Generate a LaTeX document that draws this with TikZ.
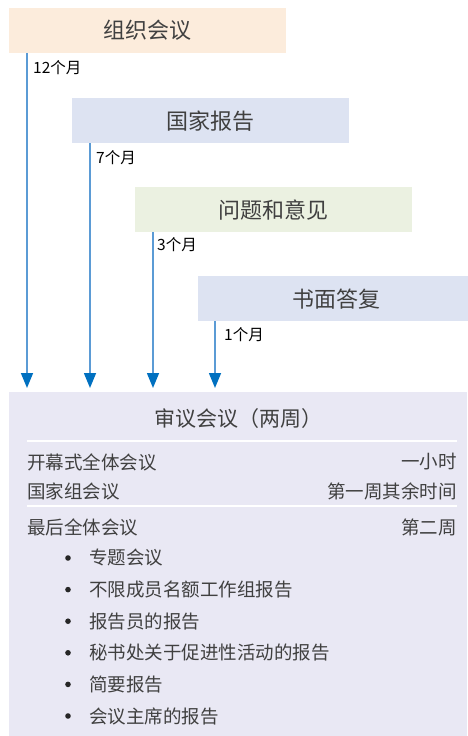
\documentclass[tikz,border=0pt]{standalone}
\usepackage{fontspec}
\setmainfont{Noto Sans CJK SC}
\usetikzlibrary{positioning,arrows.meta}
\definecolor{boxorange}{RGB}{252,236,220}
\definecolor{boxblue}{RGB}{221,227,242}
\definecolor{boxgreen}{RGB}{235,241,225}
\definecolor{boxlilac}{RGB}{233,232,244}
\definecolor{linkblue}{RGB}{91,155,213}
\definecolor{tipblue}{RGB}{0,112,192}
\definecolor{textgray}{RGB}{64,64,64}

\begin{document}
\begin{tikzpicture}[x=1pt, y=-1pt,
stage/.style={fill=#1, anchor=north west, minimum width=277pt, minimum height=45pt, inner sep=0pt, text=textgray, font=\fontsize{22}{22}\selectfont},
months/.style={inner sep=0pt, font=\fontsize{15.5}{15.5}\selectfont},
link/.style={draw=linkblue, line width=1.5pt, shorten >=4pt, -{Triangle[width=12pt, length=15pt, color=tipblue]}},
row/.style={inner sep=0pt, text=textgray, font=\fontsize{18.5}{18.5}\selectfont},
]
\useasboundingbox (0,0) rectangle (467,736);

\node[stage=boxorange] (org) at (9,8) {组织会议};
\node[stage=boxblue] (natrep) at (72,98) {国家报告};
\node[stage=boxgreen] (issues) at (135,187) {问题和意见};
\node[stage=boxblue] (reply) at (198,276) {书面答复};

\node[fill=boxlilac, anchor=north west, minimum width=458pt, minimum height=344pt, inner sep=0pt] (review) at (9,392) {};

\draw[link] ([xshift=18pt]org.south west) -- ([xshift=18pt]org.south west |- review.north);
\draw[link] ([xshift=18pt]natrep.south west) -- ([xshift=18pt]natrep.south west |- review.north);
\draw[link] ([xshift=18pt]issues.south west) -- ([xshift=18pt]issues.south west |- review.north);
\draw[link] ([xshift=17pt]reply.south west) -- ([xshift=17pt]reply.south west |- review.north);

\node[months, below right=7pt and 24pt of org.south west] (m12) {12个月};
\node[months, below right=7pt and 24pt of natrep.south west] (m7) {7个月};
\node[months, below right=5pt and 22pt of issues.south west] (m3) {3个月};
\node[months, below right=6pt and 26pt of reply.south west] (m1) {1个月};

\node[row, font=\fontsize{21}{21}\selectfont] (title) at (238,419) {审议会议（两周）};
\draw[white, line width=2pt] (27,441) -- (457,441);
\draw[white, line width=2pt] (27,506) -- (457,506);

\node[row, anchor=west] (open) at (27,462) {开幕式全体会议};
\node[row, anchor=east] (openT) at (457,462) {一小时};
\node[row, anchor=west] (group) at (27,491) {国家组会议};
\node[row, anchor=east] (groupT) at (457,491) {第一周其余时间};
\node[row, anchor=west] (final) at (27,527) {最后全体会议};
\node[row, anchor=east] (finalT) at (457,527) {第二周};

\foreach \txt [count=\i from 0] in {专题会议, 不限成员名额工作组报告, 报告员的报告, 秘书处关于促进性活动的报告, 简要报告, 会议主席的报告}{
  \fill[black!85] (68,558+31.6*\i) circle (2.8pt);
  \node[row, anchor=west] (item\i) at (89,558+31.6*\i) {\txt};
}
\end{tikzpicture}
\end{document}
